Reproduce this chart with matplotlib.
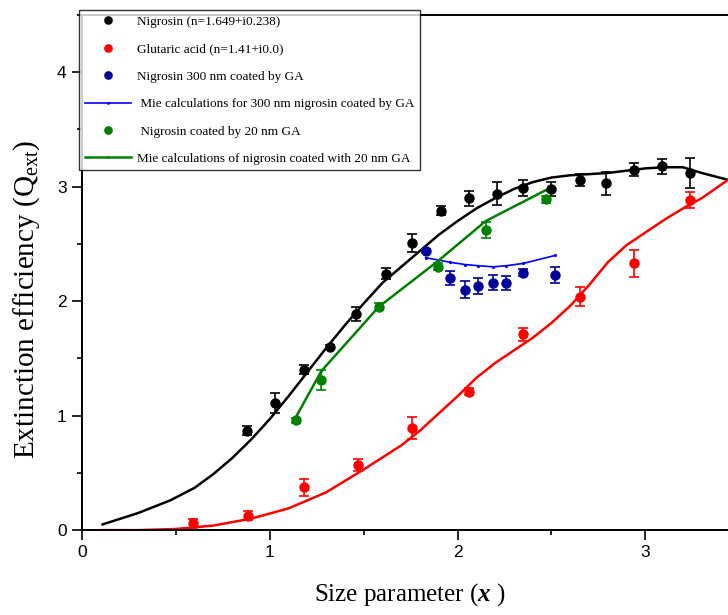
import numpy as np
import matplotlib
matplotlib.use("Agg")
import matplotlib.pyplot as plt
from matplotlib.ticker import MultipleLocator

plt.rcParams['font.family'] = ['Liberation Sans', 'DejaVu Sans']
plt.rcParams['mathtext.fontset'] = 'custom'
plt.rcParams['mathtext.rm'] = 'Liberation Serif'
plt.rcParams['mathtext.it'] = 'Liberation Serif:italic'
plt.rcParams['mathtext.bf'] = 'Liberation Serif:bold'
plt.rcParams['mathtext.bfit'] = 'Liberation Serif:italic:bold'

# Nigrosin (medidas)
nig_x = [0.88, 1.03, 1.18, 1.32, 1.46, 1.62, 1.76, 1.91, 2.06, 2.21, 2.35, 2.50, 2.65, 2.79, 2.94, 3.09, 3.24]
nig_y = [0.87, 1.11, 1.40, 1.60, 1.89, 2.24, 2.51, 2.79, 2.90, 2.94, 2.99, 2.98, 3.06, 3.03, 3.15, 3.18, 3.12]
nig_err = [0.04, 0.086, 0.04, 0.02, 0.06, 0.05, 0.077, 0.04, 0.065, 0.10, 0.07, 0.06, 0.055, 0.10, 0.06, 0.065, 0.13]

# Nigrosin (Mie)
nig_mie_x = [0.11, 0.3, 0.47, 0.6, 0.7, 0.8, 0.9, 1.0, 1.1, 1.2, 1.3, 1.4, 1.5, 1.6, 1.7, 1.8, 1.9,
             2.0, 2.1, 2.2, 2.3, 2.4, 2.5, 2.6, 2.7, 2.8, 2.9, 3.0, 3.1, 3.2, 3.3, 3.44]
nig_mie_y = [0.05, 0.15, 0.26, 0.37, 0.49, 0.63, 0.79, 0.97, 1.17, 1.38, 1.59, 1.79, 1.98, 2.16, 2.30, 2.44, 2.58,
             2.70, 2.81, 2.90, 2.98, 3.04, 3.08, 3.10, 3.11, 3.12, 3.14, 3.16, 3.17, 3.17, 3.12, 3.06]

# Acido glutarico (medidas)
ga_x = [0.59, 0.885, 1.18, 1.47, 1.76, 2.06, 2.35, 2.65, 2.94, 3.24]
ga_y = [0.06, 0.125, 0.375, 0.57, 0.895, 1.21, 1.71, 2.04, 2.33, 2.88]
ga_err = [0.04, 0.04, 0.074, 0.05, 0.096, 0.03, 0.06, 0.085, 0.118, 0.07]

# Acido glutarico (Mie)
ga_mie_x = [0.11, 0.3, 0.5, 0.7, 0.9, 1.1, 1.3, 1.5, 1.7, 1.8, 1.9, 2.0, 2.1, 2.2, 2.3, 2.4, 2.5,
            2.6, 2.7, 2.8, 2.9, 3.0, 3.1, 3.2, 3.3, 3.44]
ga_mie_y = [0.0, 0.0, 0.01, 0.04, 0.1, 0.19, 0.33, 0.53, 0.74, 0.87, 1.02, 1.17, 1.33, 1.46, 1.57, 1.68, 1.81,
            1.96, 2.14, 2.34, 2.49, 2.60, 2.71, 2.81, 2.90, 3.06]

# Nigrosin 300 nm recubierto con GA
n300_x = [1.83, 1.96, 2.04, 2.11, 2.19, 2.26, 2.35, 2.52]
n300_y = [2.44, 2.20, 2.10, 2.13, 2.16, 2.16, 2.25, 2.23]
n300_err = [0.02, 0.06, 0.075, 0.07, 0.065, 0.06, 0.03, 0.07]
n300_mie = [2.38, 2.34, 2.32, 2.31, 2.30, 2.31, 2.33, 2.40]

# Nigrosin recubierto con 20 nm GA
n20_x = [1.14, 1.275, 1.58, 1.895, 2.15, 2.47]
n20_y = [0.96, 1.31, 1.95, 2.30, 2.62, 2.89]
n20_err = [0.02, 0.09, 0.03, 0.03, 0.07, 0.03]
n20_mie = [0.99, 1.39, 1.95, 2.35, 2.70, 2.97]

fig = plt.figure(figsize=(7.28, 6.15), dpi=100)
ax = fig.add_axes([0.1126, 0.138, 0.8874, 0.8376])

ekw = dict(fmt='o', ms=6.5, capsize=3.6, elinewidth=1.2, capthick=1.2, lw=0)

ax.plot(nig_mie_x, nig_mie_y, color='black', lw=1.8)
ax.plot(ga_mie_x, ga_mie_y, color='#ff0000', lw=1.8)

h1 = ax.errorbar(nig_x, nig_y, yerr=nig_err, color='black', **ekw)
h2 = ax.errorbar(ga_x, ga_y, yerr=ga_err, color='#ff0000', **ekw)
h3 = ax.errorbar(n300_x, n300_y, yerr=n300_err, color='#00009c', **ekw)
h4, = ax.plot(n300_x, n300_mie, color='#0000ff', lw=1.2, marker='.', ms=2.5)
h5 = ax.errorbar(n20_x, n20_y, yerr=n20_err, color='#008000', **ekw)
h6, = ax.plot(n20_x, n20_mie, color='#008000', lw=1.8, marker='.', ms=2.5)

handles = [h1[0], h2[0], h3[0], h4, h5[0], h6]
labels = ["Nigrosin (n=1.649+i0.238)",
          "Glutaric acid (n=1.41+i0.0)",
          "Nigrosin 300 nm coated by GA",
          " Mie calculations for 300 nm nigrosin coated by GA",
          " Nigrosin coated by 20 nm GA",
          "Mie calculations of nigrosin coated with 20 nm GA"]
leg = ax.legend(handles, labels, loc='upper left', bbox_to_anchor=(0.109, 0.983),
                bbox_transform=fig.transFigure, frameon=True, fancybox=False,
                prop={'family': 'Liberation Serif', 'size': 9.5},
                handlelength=3.5, handletextpad=0.45, labelspacing=1.15,
                borderpad=0.4, borderaxespad=0, markerscale=0.8)
leg.get_frame().set_edgecolor('black')
leg.get_frame().set_linewidth(1.0)

ax.set_xlim(0, 3.44)
ax.set_ylim(0, 4.5)
ax.xaxis.set_major_locator(MultipleLocator(1))
ax.xaxis.set_minor_locator(MultipleLocator(0.5))
ax.yaxis.set_major_locator(MultipleLocator(1))
ax.yaxis.set_minor_locator(MultipleLocator(0.5))
ax.tick_params(which='major', direction='out', length=7.5, width=1.2, labelsize=12.5)
ax.tick_params(which='minor', direction='out', length=3.6, width=1.2)
ax.spines['right'].set_visible(False)
for s in ['left', 'bottom', 'top']:
    ax.spines[s].set_linewidth(1.4)

fig.text(0.5625, 0.0325, r"Size parameter ($\mathbfit{x}$ )", family='Liberation Serif',
         fontsize=18, ha='center', va='center')
fig.text(0.036, 0.513, r"Extinction efficiency (Q$_{\mathrm{ext}}$)", family='Liberation Serif',
         fontsize=21, ha='center', va='center', rotation=90)

fig.savefig("out.png", dpi=100)
